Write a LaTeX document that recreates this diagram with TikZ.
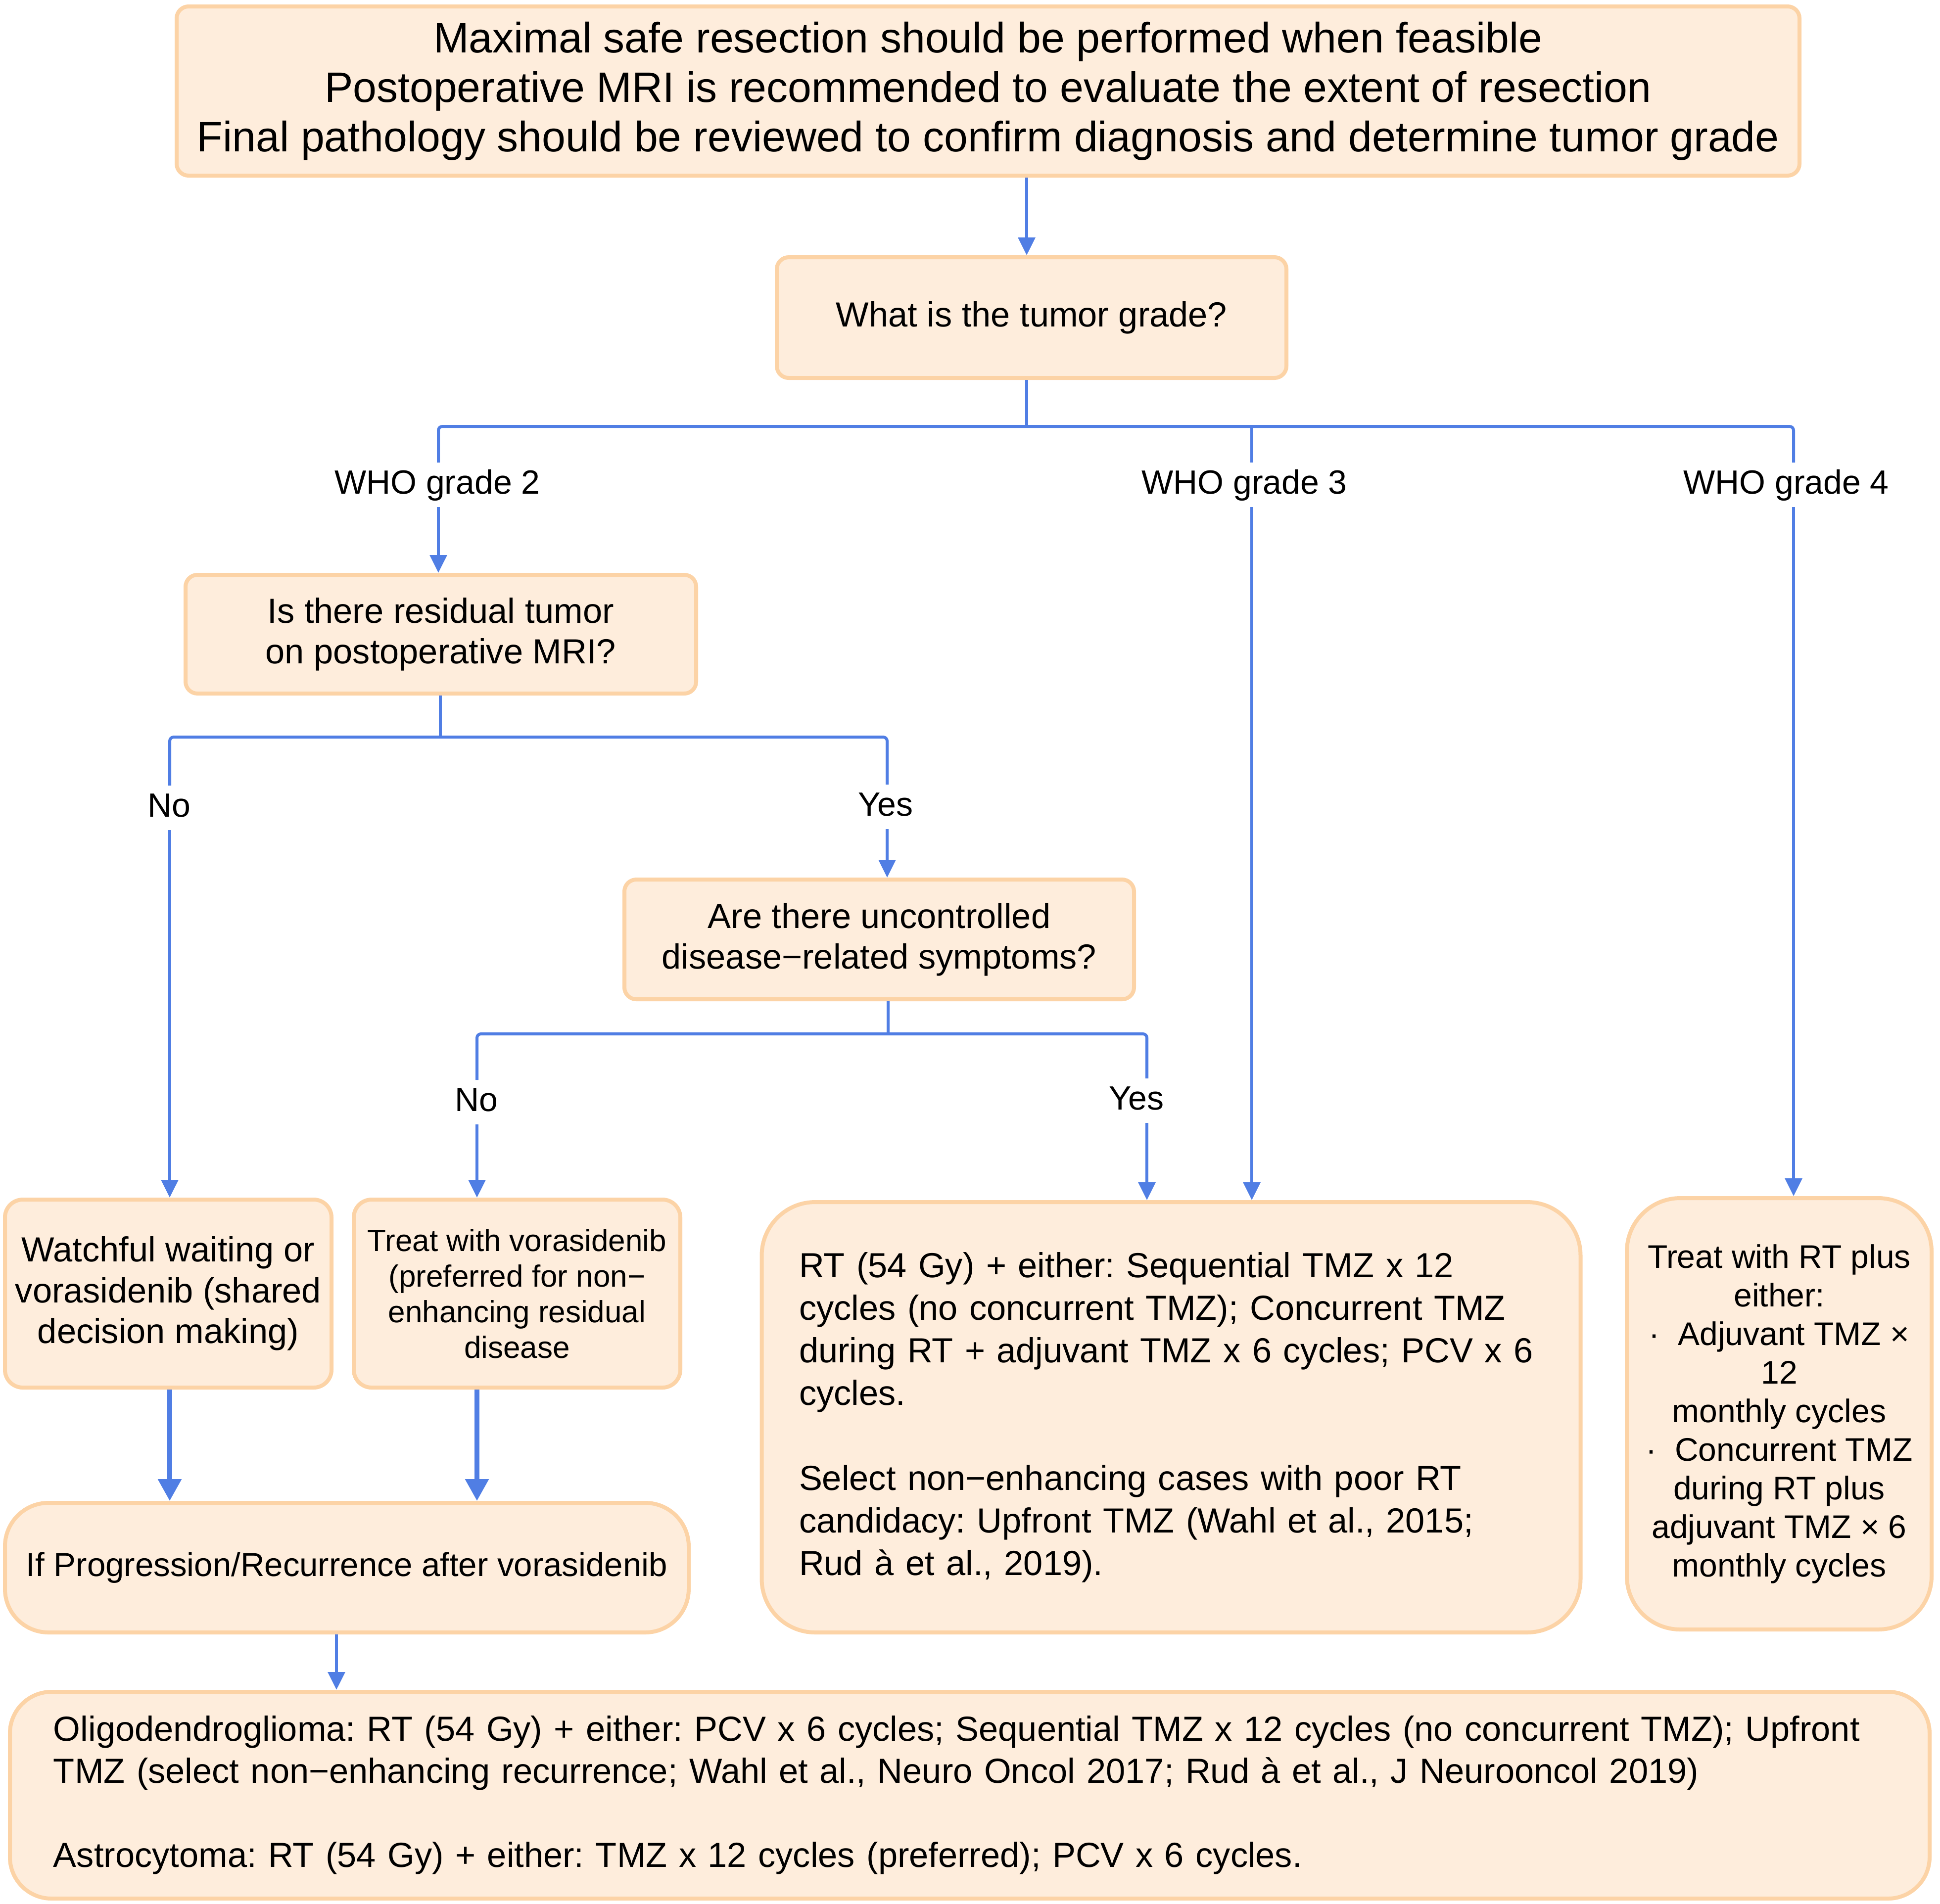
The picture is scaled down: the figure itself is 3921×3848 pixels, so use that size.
\documentclass[tikz,border=0pt]{standalone}
\usepackage{fontspec}
\setmainfont{Liberation Sans}
\usetikzlibrary{arrows.meta}
\definecolor{boxfill}{RGB}{254,237,220}
\definecolor{boxline}{RGB}{252,211,166}
\definecolor{lnblue}{RGB}{80,126,228}
\frenchspacing
\begin{document}
\begin{tikzpicture}[x=0.25pt,y=-0.25pt,
  box/.style={draw=boxline, fill=boxfill, line width=2pt, rounded corners=6pt, align=center, inner sep=0pt},
  ln/.style={draw=lnblue, line width=1.5pt, rounded corners=2pt},
  arr/.style={ln, -{Triangle[length=9pt,width=8.5pt]}},
  tarr/.style={draw=lnblue, line width=2.3pt, -{Triangle[length=11pt,width=11.5pt]}},
  lbl/.style={font=\fontsize{17}{20}\selectfont, text height=12.5pt, text depth=3.5pt, inner xsep=2pt, inner ysep=3pt},
  fa/.style={font=\fontsize{17.6}{20.6}\selectfont}
]
\useasboundingbox (0,0) rectangle (3921,3848);

\node[box, minimum width=820pt, minimum height=85.5pt, font=\fontsize{21.5}{25}\selectfont] (top) at (1997,184)
 {Maximal safe resection should be performed when feasible\\
  Postoperative MRI is recommended to evaluate the extent of resection\\
  Final pathology should be reviewed to confirm diagnosis and determine tumor grade};

\node[box, fa, minimum width=257.5pt, minimum height=61pt] (grade) at (2085,642) {What is the tumor grade?};

\node[box, fa, minimum width=258pt, minimum height=60pt] (resid) at (891,1282)
 {Is there residual tumor\\on postoperative MRI?};

\node[box, fa, minimum width=257.5pt, minimum height=60.5pt] (symp) at (1777,1899)
 {Are there uncontrolled\\disease−related symptoms?};

\node[box, fa, rounded corners=9pt, minimum width=165pt, minimum height=95pt] (watch) at (340,2615)
 {Watchful waiting or\\vorasidenib (shared\\decision making)};

\node[box, rounded corners=9pt, font=\fontsize{15.5}{18}\selectfont, minimum width=165pt, minimum height=95pt] (vora) at (1045,2615)
 {Treat with vorasidenib\\(preferred for non−\\enhancing residual\\disease};

\node[box, rounded corners=27pt, font=\fontsize{17.6}{21.5}\selectfont, align=left, text width=376pt, minimum width=413.75pt, minimum height=217.5pt] (rt) at (2367,2865)
 {RT (54 Gy) + either: Sequential TMZ x 12\\
  cycles (no concurrent TMZ); Concurrent TMZ\\
  during RT + adjuvant TMZ x 6 cycles; PCV x 6\\
  cycles.\\[21.5pt]
  Select non−enhancing cases with poor RT\\
  candidacy: Upfront TMZ (Wahl et al., 2015;\\
  Rud à et al., 2019).};

\node[box, rounded corners=27pt, font=\fontsize{16.5}{19.5}\selectfont, minimum width=154pt, minimum height=218pt] (rtp) at (3596,2858)
 {Treat with RT plus\\either:\\·\ \ Adjuvant TMZ ×\\12\\monthly cycles\\·\ \ Concurrent TMZ\\during RT plus\\adjuvant TMZ × 6\\monthly cycles};

\node[box, rounded corners=22pt, font=\fontsize{16.8}{20}\selectfont, minimum width=345.5pt, minimum height=65.5pt] (prog) at (701,3169)
 {If Progression/Recurrence after vorasidenib};

\node[box, rounded corners=21pt, font=\fontsize{17.6}{21.25}\selectfont, align=left, text width=926pt, minimum width=970pt, minimum height=104.5pt] (bot) at (1960,3629)
 {Oligodendroglioma: RT (54 Gy) + either: PCV x 6 cycles; Sequential TMZ x 12 cycles (no concurrent TMZ); Upfront\\
  TMZ (select non−enhancing recurrence; Wahl et al., Neuro Oncol 2017; Rud à et al., J Neurooncol 2019)\\[21.25pt]
  Astrocytoma: RT (54 Gy) + either: TMZ x 12 cycles (preferred); PCV x 6 cycles.};

% labels
\node[lbl] (l2) at (884,980) {WHO grade 2};
\node[lbl] (l3) at (2515,980) {WHO grade 3};
\node[lbl] (l4) at (3610,980) {WHO grade 4};
\node[lbl] (lno1) at (342,1633) {No};
\node[lbl] (lyes1) at (1790,1631) {Yes};
\node[lbl] (lno2) at (963,2228) {No};
\node[lbl] (lyes2) at (2297,2225) {Yes};

% coordinates
\coordinate (jg) at (2075,862);
\coordinate (b2) at (886,862);
\coordinate (b3) at (2530,862);
\coordinate (b4) at (3625,862);
\coordinate (jr) at (890,1490);
\coordinate (nb) at (343,1490);
\coordinate (yb) at (1793,1490);
\coordinate (js) at (1795,2090);
\coordinate (nb2) at (964,2090);
\coordinate (yb2) at (2318,2090);
\coordinate (pb) at (680,3300);

% connectors
\draw[arr] (top.south -| jg) -- (grade.north -| jg);
\draw[ln] (grade.south -| jg) -- (jg);
\draw[ln] (b2 |- l2.north) -- (b2) -- (b4) -- (b4 |- l4.north);
\draw[ln] (b3) -- (b3 |- l3.north);
\draw[arr] (b2 |- l2.south) -- (resid.north -| b2);
\draw[arr] (b3 |- l3.south) -- (rt.north -| b3);
\draw[arr] (b4 |- l4.south) -- (rtp.north -| b4);

\draw[ln] (resid.south -| jr) -- (jr);
\draw[ln] (nb |- lno1.north) -- (nb) -- (yb) -- (yb |- lyes1.north);
\draw[arr] (nb |- lno1.south) -- (watch.north -| nb);
\draw[arr] (yb |- lyes1.south) -- (symp.north -| yb);

\draw[ln] (symp.south -| js) -- (js);
\draw[ln] (nb2 |- lno2.north) -- (nb2) -- (yb2) -- (yb2 |- lyes2.north);
\draw[arr] (nb2 |- lno2.south) -- (vora.north -| nb2);
\draw[arr] (yb2 |- lyes2.south) -- (rt.north -| yb2);

\draw[tarr] (watch.south -| nb) -- (prog.north -| nb);
\draw[tarr] (vora.south -| nb2) -- (prog.north -| nb2);
\draw[arr] (prog.south -| pb) -- (bot.north -| pb);
\end{tikzpicture}
\end{document}
